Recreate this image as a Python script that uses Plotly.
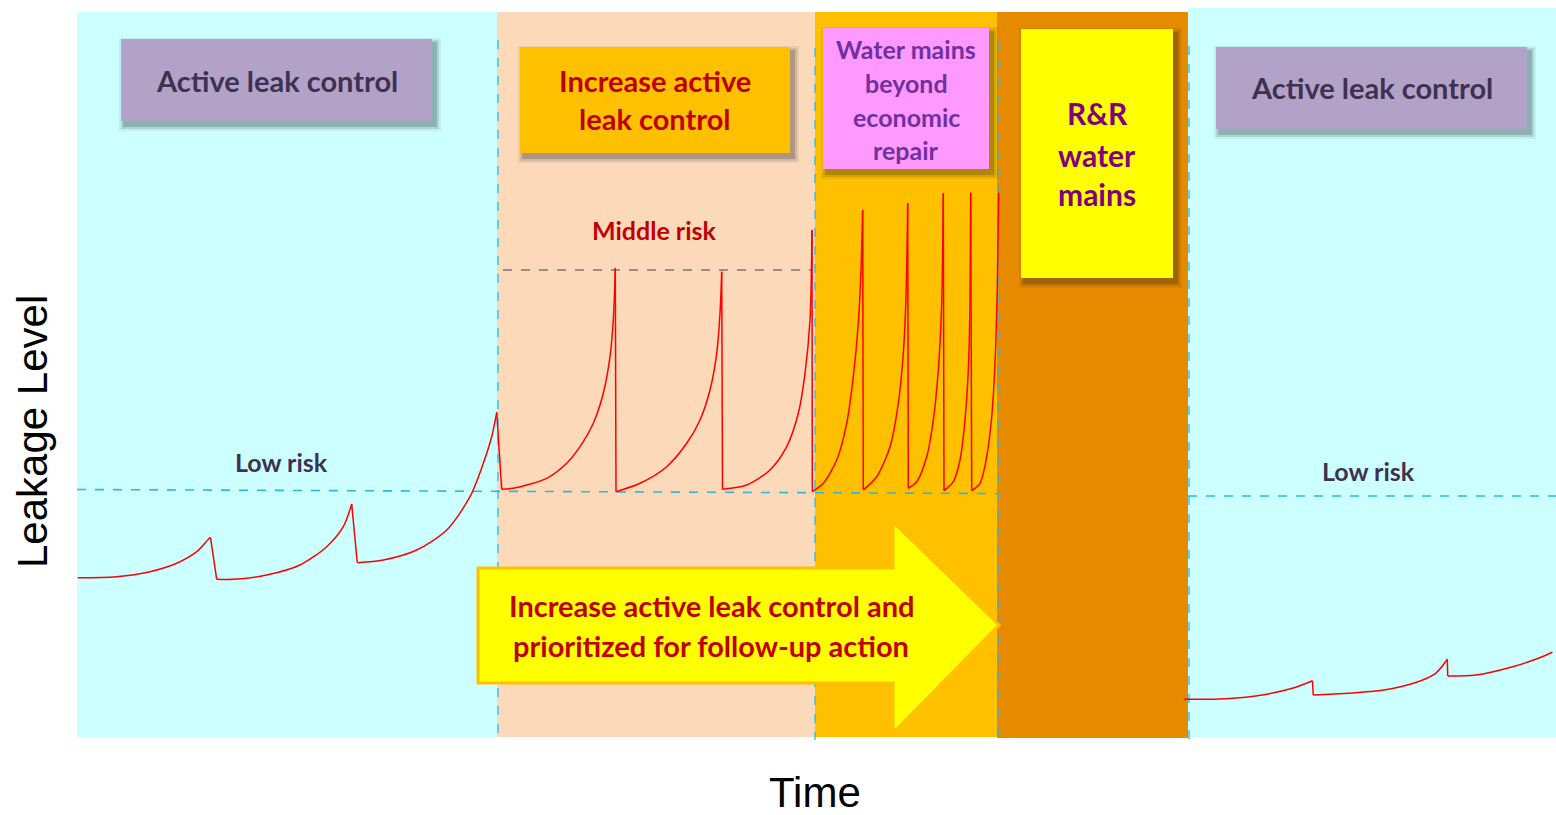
import plotly.graph_objects as go

# ---------------- data (schematic; units = time / leakage on a pixel-like grid) -------------
# background zones: [x0, x1, y_top, y_bottom, colour]
zone_x0 = [77, 497, 815, 997, 1188]
zone_x1 = [497, 815, 997, 1188, 1556]
zone_top = [12, 12, 12, 12, 8]
zone_bottom = [737, 737, 737, 738, 737]
zone_colors = ["#CCFFFF", "#FCD9B8", "#FFC000", "#E68A00", "#CCFFFF"]

# leakage curve – rising parts (segments separated by None)
rise_x = [77.7, 116.7, 150, 176.7, 196.7, 209.3, 210.5, None,
          216.7, 233.3, 266.7, 300, 326.7, 343.3, 351.7, None,
          357.3, 383.3, 416.7, 446.7, 470, 483.3, 491.7, 496.7, None,
          501.7, 513.3, 546.7, 566.7, 580, 593.3, 603.3, 610, 613.3, 615, 615.3, None,
          616, 640, 666.7, 686.7, 700, 710, 716.7, 720, 721.7, None,
          722.5, 746.7, 770, 786.7, 798.3, 805, 810, 812, None,
          812.3, 823.3, 836.7, 846.7, 853.3, 858.3, 861, 862.7, None,
          863.3, 876.7, 890, 898.3, 903.3, 906, 907.7, None,
          908.3, 916.7, 926.7, 933.3, 938.3, 941.7, 943.3, None,
          944, 953.3, 960, 965, 968.3, 970, 970.7, None,
          971.7, 980, 986.7, 991.7, 995, 997.3, 998.7, None,
          1183.9, 1218.8, 1255.5, 1292.3, 1312.5, None,
          1313.2, 1347.4, 1384.1, 1413.5, 1435.6, 1447.3, None,
          1447.7, 1476, 1512.7, 1538.4, 1552.4]
rise_y = [577.7, 576.7, 571.7, 563.3, 551.7, 538.3, 537.5, None,
          579.3, 579.3, 575, 565, 546.7, 526.7, 504, None,
          562.7, 560, 550, 530, 496.7, 463.3, 436.7, 412.3, None,
          489.3, 488.3, 478.3, 463.3, 446.7, 423.3, 393.3, 356.7, 320, 280, 268.3, None,
          491.7, 483.3, 466.7, 443.3, 420, 390, 353.3, 313.3, 271.7, None,
          489.3, 485, 470, 446.7, 413.3, 373.3, 320, 230, None,
          491.7, 483.3, 460, 423.3, 376.7, 323.3, 270, 210, None,
          490, 476.7, 446.7, 403.3, 353.3, 296.7, 203.3, None,
          488.3, 481.7, 456.7, 420, 370, 303.3, 193.3, None,
          490.7, 481.7, 460, 420, 370, 303.3, 192.7, None,
          490.7, 483.3, 456.7, 416.7, 363.3, 286.7, 192.7, None,
          699.3, 699, 696, 688.3, 680.7, None,
          695, 693.3, 690, 683.3, 673.3, 659.3, None,
          676, 675, 666.7, 658.3, 652.3]

# leakage curve – repair drops (peak -> bottom)
drop_x = [210.5, 216.7, None, 351.7, 357.3, None, 496.7, 501.7, None,
          615.3, 616, None, 721.7, 722.5, None, 812, 812.3, None,
          862.7, 863.3, None, 907.7, 908.3, None, 943.3, 944, None,
          970.7, 971.7, None, 1312.5, 1313.2, None, 1447.3, 1447.7]
drop_y = [537.5, 579.3, None, 504, 562.7, None, 412.3, 489.3, None,
          268.3, 491.7, None, 271.7, 489.3, None, 230, 491.7, None,
          210, 490, None, 203.3, 488.3, None, 193.3, 490.7, None,
          192.7, 490.7, None, 680.7, 695, None, 659.3, 676]

# risk thresholds
low_risk_left = [77, 489.5, 998, 493.5]      # x0, y0, x1, y1
low_risk_right = [1188, 496, 1556, 496]
middle_risk = [503, 270, 813, 270]
phase_lines_x = [498, 815, 998, 1189]
phase_lines_top = [40, 48, 42, 46]

# labelled boxes: x0, x1, y0, y1, fill, text colour, lines, line y's, font size
boxes = [
    (121, 432, 39, 121, "#B3A2C7", "#3F3151", ["Active leak control"], [80], 29),
    (520, 790, 47, 153, "#FFC000", "#C00000", ["Increase active", "leak control"], [80, 118], 29),
    (823, 989, 28, 169, "#FF99FF", "#7030A0", ["Water mains", "beyond", "economic", "repair"], [49, 83, 117, 150], 25),
    (1021, 1173, 29, 278, "#FFFF00", "#800080", ["R&R", "water", "mains"], [113, 155, 194], 30),
    (1216, 1527, 47, 129, "#B3A2C7", "#3F3151", ["Active leak control"], [87], 29),
]

labels = [("Middle risk", 654, 230, 25, "#C00000"),
          ("Low risk", 281, 462, 25, "#3F3151"),
          ("Low risk", 1368, 471, 25, "#3F3151")]

arrow_x = [478, 893, 893, 999, 893, 893, 478]
arrow_y = [568, 568, 522, 625, 733, 683, 683]
arrow_text = ["Increase active leak control and", "prioritized for follow-up action"]
arrow_text_y = [605, 645]

FONT = "Lato"

fig = go.Figure()

shapes = []
for x0, x1, y0, y1, c in zip(zone_x0, zone_x1, zone_top, zone_bottom, zone_colors):
    shapes.append(dict(type="rect", xref="x", yref="y", x0=x0, x1=x1, y0=y0, y1=y1,
                       fillcolor=c, line=dict(width=0), layer="below"))

dash_blue = dict(color="#2BB8E8", width=1.6, dash="dash")
for seg in (low_risk_left, low_risk_right):
    shapes.append(dict(type="line", xref="x", yref="y", x0=seg[0], y0=seg[1], x1=seg[2], y1=seg[3],
                       line=dash_blue, layer="below"))
shapes.append(dict(type="line", xref="x", yref="y", x0=middle_risk[0], y0=middle_risk[1],
                   x1=middle_risk[2], y1=middle_risk[3],
                   line=dict(color="#7F6F80", width=1.6, dash="dash"), layer="below"))
for xv, yt in zip(phase_lines_x, phase_lines_top):
    shapes.append(dict(type="line", xref="x", yref="y", x0=xv, x1=xv, y0=yt, y1=740,
                       line=dict(color="#2BB8E8", width=1.3, dash="dash"), layer="below"))

# arrow
path = "M " + " L ".join(f"{x},{y}" for x, y in zip(arrow_x, arrow_y)) + " Z"
shapes.append(dict(type="path", xref="x", yref="y", path=path, fillcolor="#FFFF00",
                   line=dict(color="#FFC000", width=3), layer="above"))

annotations = []
for (x0, x1, y0, y1, fill, tc, lines, ys, fs) in boxes:
    # soft shadow
    for k, a in ((6, 0.07), (4, 0.12), (2, 0.20)):
        shapes.append(dict(type="rect", xref="x", yref="y", x0=x0 - k + 4, x1=x1 + k + 3,
                           y0=y0 - k + 5, y1=y1 + k + 4,
                           fillcolor=f"rgba(30,30,30,{a})", line=dict(width=0), layer="above"))
    shapes.append(dict(type="rect", xref="x", yref="y", x0=x0, x1=x1, y0=y0, y1=y1,
                       fillcolor=fill, line=dict(width=0), layer="above"))
    for t, yy in zip(lines, ys):
        annotations.append(dict(x=(x0 + x1) / 2, y=yy, xref="x", yref="y", text=f"<b>{t}</b>",
                                showarrow=False, font=dict(family=FONT, size=fs, color=tc)))

for t, x, y, fs, c in labels:
    annotations.append(dict(x=x, y=y, xref="x", yref="y", text=f"<b>{t}</b>", showarrow=False,
                            font=dict(family=FONT, size=fs, color=c)))

for t, y in zip(arrow_text, arrow_text_y):
    annotations.append(dict(x=711, y=y, xref="x", yref="y", text=f"<b>{t}</b>", showarrow=False,
                            font=dict(family=FONT, size=29, color="#C00000")))

annotations.append(dict(x=814.5, y=792, xref="x", yref="y", text="Time", showarrow=False,
                        font=dict(family="Liberation Sans, Arial", size=42, color="#000000")))
annotations.append(dict(x=32, y=432, xref="x", yref="y", text="Leakage Level", showarrow=False,
                        textangle=-90,
                        font=dict(family="Liberation Sans, Arial", size=42, color="#000000")))

fig.add_trace(go.Scatter(x=rise_x, y=rise_y, mode="lines",
                         line=dict(color="#FF0000", width=1.5, shape="spline", smoothing=0.8),
                         connectgaps=False, hoverinfo="skip", showlegend=False))
fig.add_trace(go.Scatter(x=drop_x, y=drop_y, mode="lines", line=dict(color="#FF0000", width=1.5),
                         connectgaps=False, hoverinfo="skip", showlegend=False))

fig.update_layout(
    width=1556, height=815, margin=dict(l=0, r=0, t=0, b=0),
    paper_bgcolor="white", plot_bgcolor="white",
    xaxis=dict(range=[0, 1556], visible=False, fixedrange=True),
    yaxis=dict(range=[815, 0], visible=False, fixedrange=True),
    shapes=shapes, annotations=annotations, showlegend=False,
)

fig.write_html("out.html", config={"displayModeBar": False},
               post_script="document.body.style.margin='0px';document.body.style.overflow='hidden';")
